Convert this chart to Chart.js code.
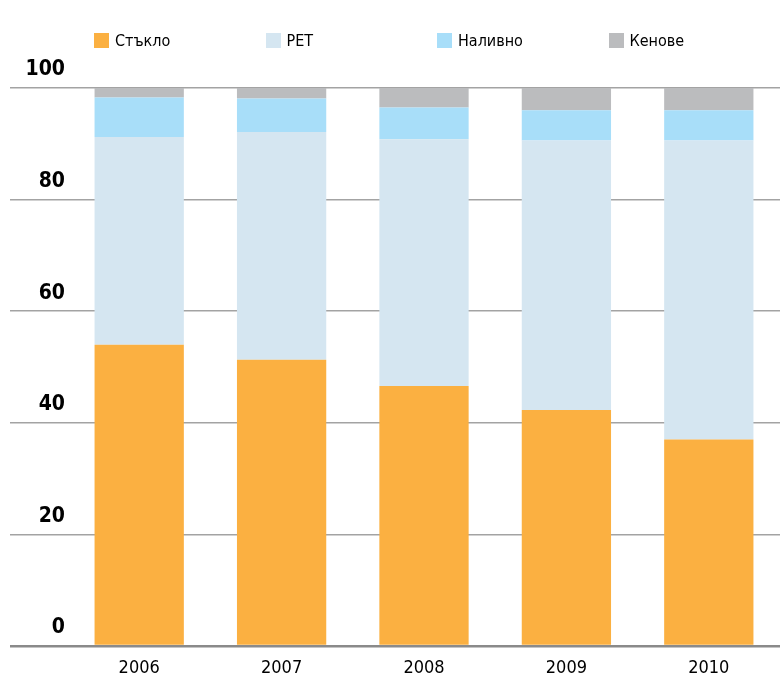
<!DOCTYPE html>
<html>
<head>
<meta charset="utf-8">
<script src="https://cdn.jsdelivr.net/npm/chart.js@4/dist/chart.umd.min.js"></script>
<style>
    body { margin: 0; background: #fff; }
    #wrap { position: relative; width: 780px; height: 682px; }
    #legend { position: absolute; left: 94px; top: 31px; display: flex;
              font-family: "Liberation Sans Narrow", "DejaVu Sans Condensed", sans-serif; font-size: 16px; color: #000; }
    .item { width: 171.5px; display: flex; align-items: center; }
    .box { width: 15px; height: 15px; margin-right: 6px; }
</style>
</head>
<body>
<div id="wrap">
    <canvas id="chart" width="780" height="682"></canvas>
    <div id="legend"></div>
</div>
<script>
// данни (в %)
const years = ['2006', '2007', '2008', '2009', '2010'];
const glass = [54.0, 51.3, 46.6, 42.3, 37.0];
const pet = [37.2, 40.8, 44.2, 48.3, 53.6];
const bulk = [7.1, 6.0, 5.7, 5.4, 5.4];
const cans = [1.7, 1.9, 3.5, 4.0, 4.0];
const yTicks = [0, 20, 40, 60, 80, 100];

const seriesNames = ['Стъкло', 'PET', 'Наливно', 'Кенове'];
const seriesColors = ['#fbb041', '#d5e6f1', '#a8def9', '#bbbcbe'];
const seriesData = [glass, pet, bulk, cans];

const fontFamily = '"Liberation Sans Narrow", "DejaVu Sans Condensed", sans-serif';

const chart = new Chart(document.getElementById('chart'), {
    type: 'bar',
    data: {
        labels: years,
        datasets: seriesData.map((d, i) => ({
            label: seriesNames[i],
            data: d,
            backgroundColor: seriesColors[i],
            borderWidth: 0,
            barPercentage: 0.627,
            categoryPercentage: 1
        }))
    },
    options: {
        responsive: false,
        animation: false,
        layout: { padding: { left: 10, right: 0, top: 88, bottom: 5 } },
        plugins: {
            legend: { display: false },
            tooltip: { enabled: false }
        },
        scales: {
            x: {
                stacked: true,
                afterFit: (scale) => { scale.height = 31; },
                grid: { display: false, drawTicks: false },
                border: { display: false },
                ticks: {
                    color: '#000',
                    padding: 12,
                    font: { family: fontFamily, size: 18 }
                }
            },
            y: {
                stacked: true,
                min: 0,
                max: 100,
                z: 1,
                afterBuildTicks: (scale) => {
                    scale.ticks = yTicks.map(v => ({ value: v }));
                },
                afterFit: (scale) => { scale.width = 58; },
                grid: {
                    color: (c) => c.tick && c.tick.value === 0 ? '#8a8a8a' : '#a3a3a3',
                    lineWidth: (c) => c.tick && c.tick.value === 0 ? 2.5 : 1.5,
                    drawTicks: true,
                    tickLength: 58
                },
                border: { display: false },
                ticks: {
                    padding: -55,
                    labelOffset: -18,
                    color: '#000',
                    font: { family: fontFamily, size: 21, weight: 'bold' }
                }
            }
        }
    }
});

// легенда
document.getElementById('legend').innerHTML = chart.data.datasets.map(ds =>
    `<div class="item"><span class="box" style="background:${ds.backgroundColor}"></span>${ds.label}</div>`
).join('');
</script>
</body>
</html>
